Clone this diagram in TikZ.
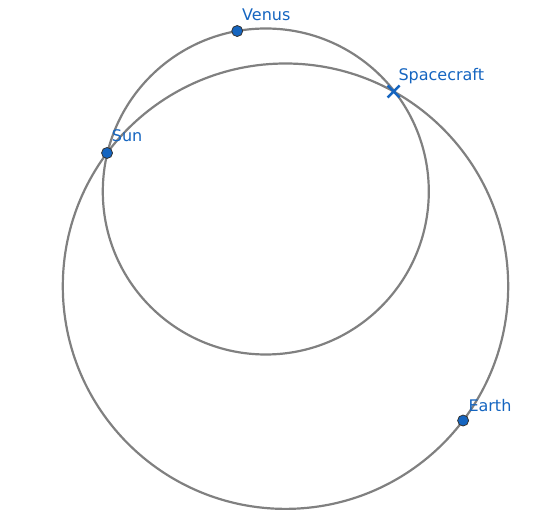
\documentclass[tikz,border=0pt]{standalone}
\usepackage{fontspec}
\setmainfont{DejaVu Sans}
\usetikzlibrary{calc}
\definecolor{ptblue}{HTML}{1565C0}
\definecolor{orbgray}{HTML}{808080}
\begin{document}
\begin{tikzpicture}[x=1pt,y=1pt,
  orbit/.style={draw=orbgray,line width=2.2pt},
  body/.style={circle,fill=ptblue,draw=black!80,line width=0.8pt,minimum size=11pt,inner sep=0pt},
  lbl/.style={text=ptblue,font=\fontsize{16}{19}\selectfont,inner sep=0pt,anchor=base west},
  cross/.style={draw=ptblue,line width=2.5pt}]
\useasboundingbox (0,0) rectangle (558,525);
\coordinate (C1) at (265.8,333.5);
\coordinate (C2) at (285.5,238.8);
\draw[orbit] (C1) circle (163);
\draw[orbit] (C2) circle (222.7);
\node[body] (venus) at ($(C1)+(100.1:163)$) {};
\node[body] (sun) at ($(C2)+(143.25:222.7)$) {};
\node[body] (earth) at ($(C2)+(-37.1:222.7)$) {};
\coordinate (sc) at ($(C2)+(60.97:222.7)$);
\draw[cross] ($(sc)+(-6,-6)$) -- ($(sc)+(6,6)$) ($(sc)+(-6,6)$) -- ($(sc)+(6,-6)$);
\node[lbl] (lv) at (242,504.3) {Venus};
\node[lbl] (ls) at (398.3,444.3) {Spacecraft};
\node[lbl] (lsun) at (111.7,383) {Sun};
\node[lbl] (le) at (468.3,113) {Earth};
\end{tikzpicture}
\end{document}
